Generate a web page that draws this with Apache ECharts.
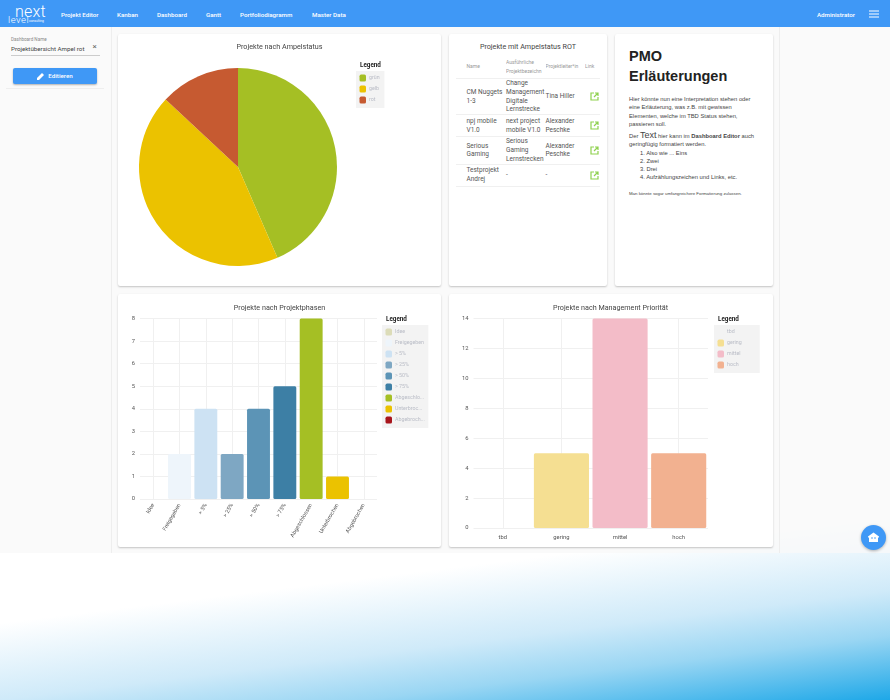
<!DOCTYPE html>
<html><head><meta charset="utf-8">
<script src="https://cdn.jsdelivr.net/npm/echarts@6/dist/echarts.min.js"></script>
<style>
html,body{margin:0;padding:0;width:890px;height:700px;overflow:hidden;font-family:Roboto,sans-serif;color:#333}
#wrap{position:absolute;left:0;top:0;width:890px;height:700px;filter:blur(.35px)}
#bg{position:absolute;left:0;top:0;width:890px;height:700px;background:linear-gradient(173deg,#fff 0%,#fff 77%,#cfeaf9 86.500%,#9ad6f3 92%,#1ea8e8 100%)}
#app{position:absolute;left:0;top:0;width:890px;height:553px;background:rgba(249,249,249,.78)}
#hdr{position:absolute;left:0;top:0;width:890px;height:27px;background:#3f98f6;color:#fff;font-size:6.2px;font-weight:500}
#hdr span{position:absolute;top:10.500px;white-space:nowrap}
#hdr span.logo1{font-size:16px;font-weight:300;left:15px;top:2px;letter-spacing:.2px}
#hdr span.logo2{font-size:9.5px;left:8px;top:14px;font-weight:300;letter-spacing:.5px}
#hdr span.logo3{font-size:3.2px;left:29px;top:18.500px;font-weight:400}
#side{position:absolute;left:0;top:27px;width:111px;height:526px;background:rgba(250,250,250,.6);border-right:1px solid #eee}
#main{position:absolute;left:779px;top:27px;width:0;height:526px;border-left:1px solid #eee}
.card{position:absolute;background:#fff;border-radius:2px;box-shadow:0 1px 2px rgba(0,0,0,.22)}
#c2 table{position:absolute;left:7px;top:21px;width:144px;table-layout:fixed;border-collapse:collapse;font-size:6.5px;line-height:8.800px;color:#555}
#c2 th{font-weight:400;font-size:5px;color:#999;text-align:left;line-height:8.500px;padding:0;height:23px;white-space:normal;overflow:hidden}
#c2 td{padding:0;height:21px;border-top:1px solid #f0f0f0;vertical-align:middle}
#c2 tr:last-child td{border-bottom:1px solid #f0f0f0}
#c2 td:first-child,#c2 th:first-child{padding-left:10.500px}
#c2 .tt{position:absolute;left:0;width:158px;top:8px;text-align:center;font-size:7.2px;color:#444}
#c3{font-family:"Liberation Sans",Arial,sans-serif;color:#444;font-size:5.8px;line-height:8.300px}
#c3 h1{position:absolute;left:14px;top:11.500px;margin:0;font-size:14.500px;line-height:20.500px;font-weight:700;color:#222}
#c3 div{position:absolute;left:14px;white-space:nowrap}
#chart{position:absolute;left:0;top:0;width:890px;height:700px}
#fab{position:absolute;left:861px;top:525px;width:25px;height:25px;border-radius:50%;background:#3f98f6;box-shadow:0 1px 3px rgba(0,0,0,.3)}
</style></head><body>
<div id="wrap">
<div id="bg"></div><div id="app"></div>
<div id="hdr">
<span class="logo1">next</span><span class="logo2">level</span><span class="logo3">consulting</span>
<span style="left:61px">Projekt Editor</span><span style="left:117px">Kanban</span><span style="left:157px">Dashboard</span><span style="left:206px">Gantt</span><span style="left:240px">Portfoliodiagramm</span><span style="left:312px">Master Data</span><span style="left:817px">Administrator</span>
<svg style="position:absolute;left:869px;top:10px" width="10" height="8"><path d="M0 1h10M0 4h10M0 7h10" stroke="#fff" stroke-width="1"/></svg>
</div>
<div id="side">
<div style="position:absolute;left:11px;top:10px;font-size:4.600px;color:#888">Dashboard Name</div>
<div style="position:absolute;left:11px;top:18px;font-size:6.200px;color:#444;white-space:nowrap">Projektübersicht Ampel rot</div>
<div style="position:absolute;left:92.500px;top:14.500px;font-size:8px;color:#666">×</div>
<div style="position:absolute;left:11px;top:28px;width:89px;border-top:1px solid #ccc"></div>
<div style="position:absolute;left:13px;top:41px;width:84px;height:16px;background:#3f98f6;border-radius:2px;box-shadow:0 1px 2px rgba(0,0,0,.3);color:#fff;font-size:6.200px;font-weight:500;line-height:16px;text-align:center"><svg width="8" height="8" viewBox="0 0 8 8" style="vertical-align:-1.500px;margin-right:3px"><path d="M0 8V6L5 1l2 2-5 5z" fill="#fff"/></svg>Editieren</div>
<div style="position:absolute;left:6px;top:61px;width:98px;border-top:1px solid #eee"></div>
</div><div id="main"></div>
<div class="card" style="left:118px;top:34px;width:323px;height:252px"></div>
<div class="card" id="c2" style="left:449px;top:34px;width:158px;height:252px">
<div class="tt">Projekte mit Ampelstatus ROT</div>
<table><colgroup><col style="width:50px"><col style="width:39.500px"><col style="width:39.500px"><col style="width:15px"></colgroup>
<thead><tr><th>Name</th><th>Ausführliche Projektbezeichn</th><th style="white-space:nowrap">Projektleiter*in</th><th>Link</th></tr></thead>
<tbody id="rows"></tbody></table>
</div>
<div class="card" id="c3" style="left:615px;top:34px;width:158px;height:252px">
<h1>PMO<br>Erläuterungen</h1>
<div style="top:61px">Hier könnte nun eine Interpretation stehen oder<br>eine Erläuterung, was z.B. mit gewissen<br>Elementen, welche im TBD Status stehen,<br>passieren soll.</div>
<div style="top:97px">Der <span style="font-size:9px">Text</span> hier kann im <b>Dashboard Editor</b> auch<br>geringfügig formatiert werden.</div>
<div style="top:114.500px;left:25px">1. Also wie ... Eins<br>2. Zwei<br>3. Drei<br>4. Aufzählungszeichen und Links, etc.</div>
<div style="top:156px;font-size:4.350px">Man könnte sogar umfangreichere Formatierung zulassen.</div>
</div>
<div class="card" style="left:118px;top:294px;width:323px;height:253px"></div>
<div class="card" style="left:449px;top:294px;width:324px;height:253px"></div>
<div id="chart"></div>
<div id="fab"><svg width="25" height="25" viewBox="0 0 25 25"><path d="M12.500 7.500l5.500 4v1h-1v4.500h-9v-4.500h-1v-1z" fill="#fff"/><circle cx="11" cy="13" r=".8" fill="#3f98f6"/><circle cx="14" cy="13" r=".8" fill="#3f98f6"/></svg></div>
</div>
<script>
const statusNames=['grün','gelb','rot'];
const statusValues=[10,10,3];
const statusColors=['#a5bf24','#ebc200','#c65a31'];
const phaseNames=['Idee','Freigegeben','> 5%','> 25%','> 50%','> 75%','Abgeschlossen','Unterbrochen','Abgebrochen'];
const phaseValues=[0,2,4,2,4,5,8,1,0];
const phaseColors=['#dcdcb8','#eef5fb','#cde2f3','#7ea7c3','#5c94b6','#3d7fa5','#a5bf24','#ebc200','#a8151c'];
const prioNames=['tbd','gering','mittel','hoch'];
const prioValues=[0,5,14,5];
const prioColors=['#f3f3f3','#f5df92','#f3bcc8','#f2b190'];
const tableRows=[
['CM Nuggets 1-3','Change Management Digitale Lernstrecke','Tina Hiller'],
['npj mobile V1.0','next project mobile V1.0','Alexander Peschke'],
['Serious Gaming','Serious Gaming Lernstrecken','Alexander Peschke'],
['Testprojekt Andrej','-','-']];
const icon='<svg width="9" height="9" viewBox="0 0 9 9" style="display:block;margin-left:5px"><path d="M4 1H1v7h7V5M5 1h3v3M8 1L4 5" fill="none" stroke="#8fd14f" stroke-width="1.2"/></svg>';
document.getElementById('rows').innerHTML=tableRows.map(r=>'<tr>'+r.map(c=>'<td>'+c+'</td>').join('')+'<td>'+icon+'</td></tr>').join('');

const ttl=(text,cx,y)=>({text,left:cx,top:y,padding:0,textAlign:'center',textStyle:{fontSize:7.2,fontWeight:400,color:'#444',fontFamily:'Roboto'}});
const legTtl=(x,y)=>({text:'Legend',left:x,top:y,padding:0,textStyle:{fontSize:6.3,fontWeight:700,color:'#222',fontFamily:'Roboto'}});
const legTextBase={fontSize:5.3,color:'#b9bcc6',fontFamily:'Roboto'};
const leg=(names,x,y,colors,pad)=>({data:names.map((n,i)=>({name:n,itemStyle:{color:colors[i]}})),orient:'vertical',left:x,top:y,backgroundColor:'#f3f3f3',padding:[3.5,3.5,4.5,3.5],itemGap:4,itemWidth:6.5,itemHeight:7,selectedMode:false,icon:'roundRect',
  formatter:pad?(n=>n+'\u00a0'.repeat(pad)):undefined,
  textStyle:Object.assign(pad?{padding:[0,0,0,-2]}:{padding:[0,0,0,-2],width:31,overflow:'truncate',ellipsis:'...'},legTextBase)});
const grid=(l,r,t,b)=>({left:l,width:r-l,top:t,height:b-t});
const xa=(names,gi,lbl)=>({type:'category',gridIndex:gi,data:names,axisLine:{show:false},axisTick:{show:false},splitLine:{show:false},axisLabel:Object.assign({fontSize:5.8,color:'#555',fontFamily:'Roboto',interval:0},lbl)});
const ya=(gi,max,interval)=>({type:'value',gridIndex:gi,min:0,max,interval,axisLine:{show:false},axisTick:{show:false},axisLabel:{fontSize:5.8,color:'#555',fontFamily:'Roboto',margin:5},splitLine:{lineStyle:{color:'#f0f0f0',width:1}}});
const vlines=(names,xi,yi)=>({type:'line',xAxisIndex:xi,yAxisIndex:yi,silent:true,symbol:'none',lineStyle:{width:0},data:[],z:1,
  markLine:{z:1,silent:true,symbol:'none',label:{show:false},lineStyle:{color:'#f0f0f0',width:1,type:'solid'},animation:false,data:names.map(n=>({xAxis:n}))}});
const bars=(names,values,colors,xi,yi,gap)=>names.map((n,i)=>({name:n,type:'bar',stack:'s'+xi,xAxisIndex:xi,yAxisIndex:yi,barCategoryGap:gap,z:3,
  itemStyle:{color:colors[i],borderRadius:1.5},data:values.map((v,j)=>j===i?v:null)}));

const chart=echarts.init(document.getElementById('chart'),null,{width:890,height:700});
chart.setOption({animation:false,backgroundColor:'transparent',
 title:[ttl('Projekte nach Ampelstatus',279.5,43.5),legTtl(360,62),ttl('Projekte nach Projektphasen',279.5,305),legTtl(386,316),ttl('Projekte nach Management Priorität',610.5,305),legTtl(718,316)],
 legend:[leg(statusNames,356,71,statusColors,1),leg(phaseNames,382,325,phaseColors),leg(prioNames,714,325,prioColors,11)],
 grid:[grid(140,377,318.5,499),grid(473.5,708,318.5,528)],
 xAxis:[xa(phaseNames,0,{rotate:60,margin:5,fontSize:5.6}),xa(prioNames,1,{margin:7})],
 yAxis:[ya(0,8,1),ya(1,14,2)],
 series:[
  {type:'pie',name:'Ampelstatus',center:[238,167],radius:[0,99],startAngle:90,clockwise:true,label:{show:false},labelLine:{show:false},
   data:statusNames.map((n,i)=>({name:n,value:statusValues[i],itemStyle:{color:statusColors[i]}}))},
  vlines(phaseNames,0,0),vlines(prioNames,1,1),
  ...bars(phaseNames,phaseValues,phaseColors,0,0,'13%'),
  ...bars(prioNames,prioValues,prioColors,1,1,'6%')
 ]});
</script></body></html>
